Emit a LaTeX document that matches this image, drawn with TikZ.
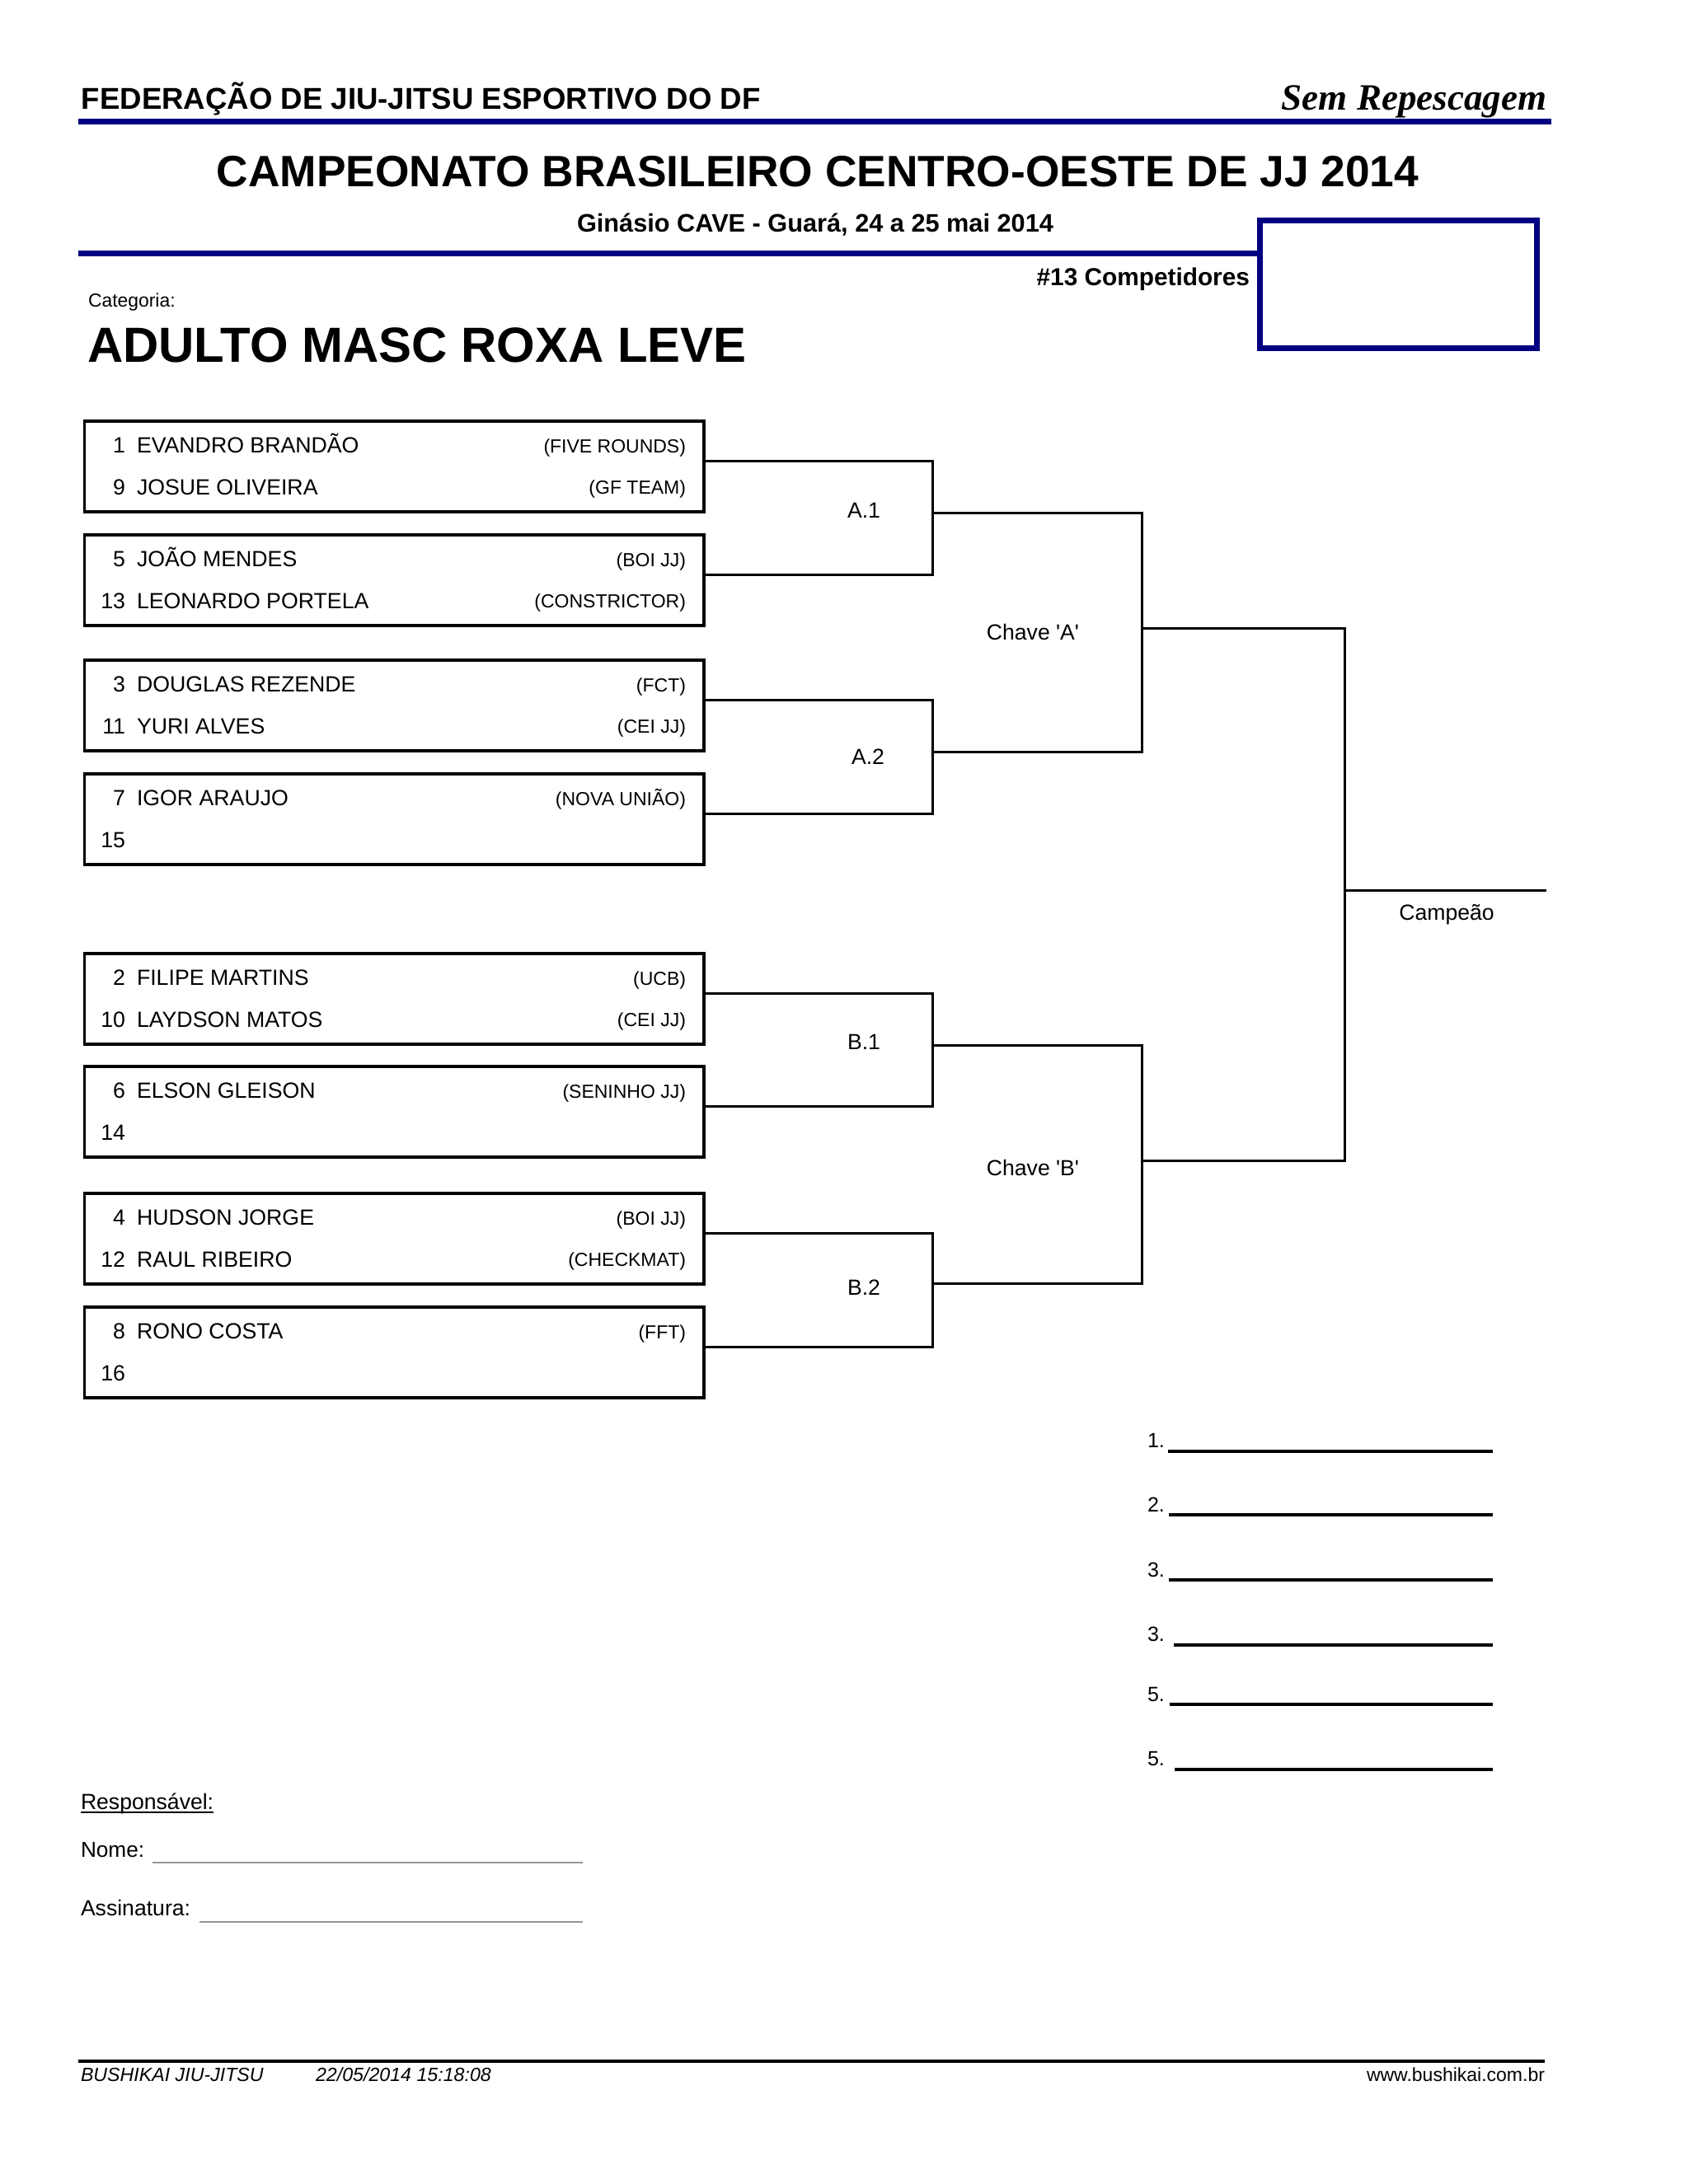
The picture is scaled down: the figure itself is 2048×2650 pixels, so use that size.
\documentclass[tikz,border=0pt]{standalone}
\usepackage{fontspec}
\setmainfont{Liberation Sans}
\newfontfamily\plainsans{Liberation Sans}[Ligatures=TeXOff]
\newfontfamily\semfont{Liberation Serif}
\definecolor{fjblue}{RGB}{0,0,128}
\definecolor{signgray}{RGB}{150,150,150}
\newcommand\fs[1]{\fontsize{#1}{#1}\selectfont}
\begin{document}
\begin{tikzpicture}[x=1pt,y=-1pt,
  txt/.style={inner sep=0pt,outer sep=0pt},
  entrybox/.style={draw=black,line width=3.5pt,minimum width=751.5pt,minimum height=110pt,inner sep=0pt,outer sep=0pt,anchor=north west},
  conn/.style={draw=black,line width=3pt},
  rule/.style={draw=black,line width=3.5pt},
  nm/.style={txt,font=\fs{26.7}},
  club/.style={txt,font=\fs{23}},
  lbl/.style={txt,font=\plainsans\fs{26.6}}]
\useasboundingbox[fill=white] (0,0) rectangle (2048,2650);

% ---------- header ----------
\node[txt,anchor=base west] (fed) at (98.9,132.7) {\fs{36.6}\bfseries FEDERAÇÃO DE JIU-JITSU ESPORTIVO DO DF};
\node[txt,anchor=base east] (sem) at (1876,133) {\semfont\fs{45}\bfseries\itshape Sem Repescagem};
\coordinate (hl1a) at (94.5,147.3);
\coordinate (hl1b) at (1882,147.3);
\draw[fjblue,line width=6.7pt] (hl1a) -- (hl1b);
\node[txt,anchor=base] (title) at (992,226) {\fs{53.3}\bfseries CAMPEONATO BRASILEIRO CENTRO-OESTE DE JJ 2014};
\node[txt,anchor=base] (venue) at (989,281) {\fs{30.7}\bfseries Ginásio CAVE - Guará, 24 a 25 mai 2014};
\node[draw=fjblue,line width=7pt,minimum width=336pt,minimum height=155pt,inner sep=0pt,outer sep=0pt,anchor=north west] (logo) at (1528.5,267.2) {};
\coordinate (hl2a) at (94.5,307.5);
\draw[fjblue,line width=7pt] (hl2a) -- (hl2a -| logo.west);
\node[txt,anchor=base east] (ncomp) at (1516,346.7) {\fs{29.8}\bfseries \#13 Competidores};
\node[txt,anchor=base west] (catlbl) at (107,372) {\fs{22.9}Categoria:};
\node[txt,anchor=base west] (cat) at (106,439) {\fs{59.9}\bfseries ADULTO MASC ROXA LEVE};

% ---------- entry boxes ----------
\foreach \i/\t/\sa/\na/\ca/\sb/\nb/\cb in {
  1/510.75/1/EVANDRO BRANDÃO/(FIVE ROUNDS)/9/JOSUE OLIVEIRA/(GF TEAM),
  2/648.75/5/JOÃO MENDES/(BOI JJ)/13/LEONARDO PORTELA/(CONSTRICTOR),
  3/800.75/3/DOUGLAS REZENDE/(FCT)/11/YURI ALVES/(CEI JJ),
  4/938.75/7/IGOR ARAUJO/(NOVA UNIÃO)/15//,
  5/1156.75/2/FILIPE MARTINS/(UCB)/10/LAYDSON MATOS/(CEI JJ),
  6/1293.75/6/ELSON GLEISON/(SENINHO JJ)/14//,
  7/1447.75/4/HUDSON JORGE/(BOI JJ)/12/RAUL RIBEIRO/(CHECKMAT),
  8/1585.75/8/RONO COSTA/(FFT)/16//}{
  \node[entrybox] (b\i) at (102.25,\t) {};
  \node[nm,anchor=base east] (sa\i) at (152,\t+39) {\sa};
  \node[nm,anchor=base west] (na\i) at (166,\t+39) {\na};
  \node[club,anchor=base east] (ca\i) at (832,\t+39) {\ca};
  \node[nm,anchor=base east] (sb\i) at (152,\t+89.5) {\sb};
  \node[nm,anchor=base west] (nb\i) at (166,\t+89.5) {\nb};
  \node[club,anchor=base east] (cb\i) at (832,\t+88.5) {\cb};
}

% ---------- bracket ----------
\coordinate (mA1) at (1131.5,622.5);
\coordinate (mA2) at (1131.5,912);
\coordinate (mB1) at (1131.5,1268);
\coordinate (mB2) at (1131.5,1557);
\coordinate (kA) at (1385,762);
\coordinate (kB) at (1385,1408);
\coordinate (fin) at (1631.5,1080.5);
\coordinate (champ) at (1876,1080.5);

\draw[conn] ([yshift=-48.25pt]b1.north east) -| (mA1) |- ([yshift=-48.25pt]b2.north east);
\draw[conn] ([yshift=-48.25pt]b3.north east) -| (mA2) |- ([yshift=-48.25pt]b4.north east);
\draw[conn] ([yshift=-48.25pt]b5.north east) -| (mB1) |- ([yshift=-48.25pt]b6.north east);
\draw[conn] ([yshift=-48.25pt]b7.north east) -| (mB2) |- ([yshift=-48.25pt]b8.north east);
\draw[conn] (mA1) -| (kA) |- (mA2);
\draw[conn] (mB1) -| (kB) |- (mB2);
\draw[conn] (kA) -| (fin) |- (kB);
\draw[conn] (fin) -- (champ);

\node[lbl] (lA1) at (1048,619) {A.1};
\node[lbl] (lA2) at (1053,918) {A.2};
\node[lbl] (lB1) at (1048,1264) {B.1};
\node[lbl] (lB2) at (1048,1562) {B.2};
\node[lbl] (lkA) at (1253,767) {Chave 'A'};
\node[lbl] (lkB) at (1253,1417) {Chave 'B'};
\node[lbl] (lch) at (1755,1110) {Campeão};

% ---------- podium ----------
\foreach \k/\n/\yb/\yl/\xs in {1/1./1756.7/1761/1417,2/2./1834/1838/1418,3/3./1913/1917/1418,4/3./1991.7/1996/1424,5/5./2064/2068/1418.6,6/5./2142.7/2147/1425}{
  \node[txt,anchor=base west,font=\fs{25}] (p\k) at (1392,\yb) {\n};
  \coordinate (pl\k) at (\xs,\yl);
  \coordinate (pr\k) at (1810.5,\yl);
  \draw[rule] (pl\k) -- (pr\k);
}

% ---------- responsible ----------
\node[txt,anchor=base west,font=\fs{26.6}] (resp) at (98,2195) {Responsável:};
\draw[black,line width=1.8pt] ([yshift=-4pt]resp.base west) -- ([yshift=-4pt]resp.base east);
\node[txt,anchor=base west,font=\fs{26.2}] (nome) at (98,2253) {Nome:};
\coordinate (nl1) at (185,2260);
\coordinate (nl2) at (707,2260);
\draw[signgray,line width=2pt] (nl1) -- (nl2);
\node[txt,anchor=base west,font=\fs{26.6}] (assin) at (98,2324) {Assinatura:};
\coordinate (al1) at (242,2332);
\coordinate (al2) at (707,2332);
\draw[signgray,line width=2pt] (al1) -- (al2);

% ---------- footer ----------
\coordinate (fl1) at (94.5,2500.5);
\coordinate (fl2) at (1874,2500.5);
\draw[black,line width=4pt] (fl1) -- (fl2);
\node[txt,anchor=base west,font=\fs{23.2}\itshape] (org) at (98,2525) {BUSHIKAI JIU-JITSU};
\node[txt,anchor=base west,font=\fs{23.2}\itshape] (date) at (383,2525) {22/05/2014 15:18:08};
\node[txt,anchor=base east,font=\fs{23}] (web) at (1874,2525) {www.bushikai.com.br};
\end{tikzpicture}
\end{document}
